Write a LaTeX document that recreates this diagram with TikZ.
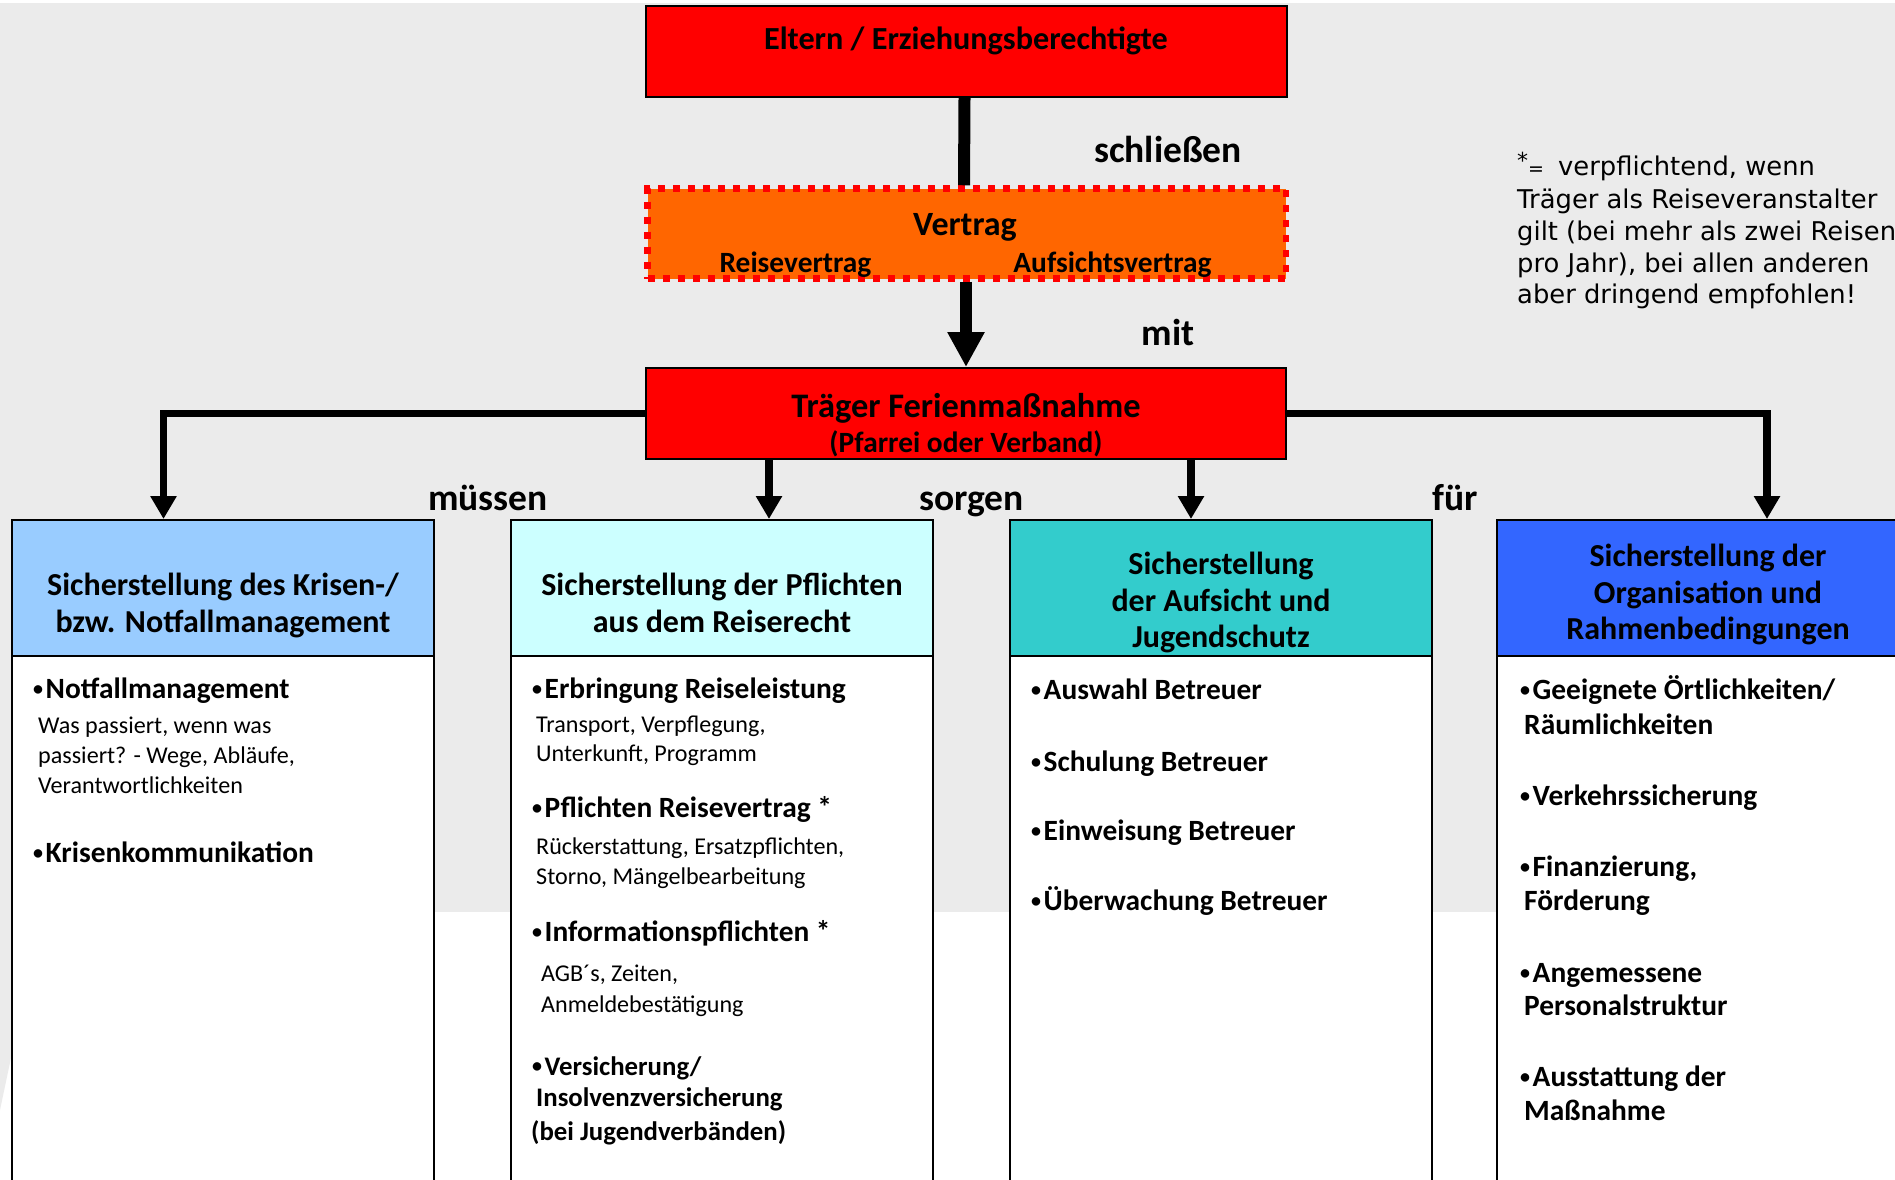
\documentclass[tikz,border=0pt]{standalone}
\usepackage{fontspec}
\setmainfont{Carlito}
\newfontfamily\notefont{DejaVu Sans}
\usetikzlibrary{arrows.meta,calc}
\definecolor{bggray}{HTML}{EBEBEB}
\definecolor{boxred}{HTML}{FF0000}
\definecolor{boxorange}{HTML}{FF6600}
\definecolor{hcolA}{HTML}{99CCFF}
\definecolor{hcolB}{HTML}{CCFFFF}
\definecolor{hcolC}{HTML}{33CCCC}
\definecolor{hcolD}{HTML}{3366FF}
\newcommand\setfs[1]{\fontsize{#1}{#1}\selectfont}
\newcommand\bul{\makebox[12.5pt][l]{\raisebox{2.5pt}{\setfs{20}•}}}
\begin{document}
\begin{tikzpicture}[x=1pt,y=-1pt,
  redbox/.style={draw=black, line width=2pt, fill=boxred, inner sep=0pt, minimum width=641pt, minimum height=91pt},
  hbox/.style={draw=black, line width=2pt, inner sep=0pt, minimum width=422pt, minimum height=136pt},
  bodybox/.style={draw=black, line width=2pt, fill=white, inner sep=0pt, minimum width=422pt, minimum height=544pt},
  txt/.style={inner sep=0pt, anchor=base},
  ttl/.style={txt, font=\setfs{32.2}\bfseries},
  hdr/.style={txt, font=\setfs{32}\bfseries},
  lbl/.style={txt, font=\setfs{37.5}\bfseries},
  itm/.style={inner sep=0pt, anchor=base west, font=\setfs{29.4}\bfseries},
  itmsmall/.style={itm, font=\setfs{26.8}\bfseries},
  sub/.style={inner sep=0pt, anchor=base west, font=\setfs{24.1}},
  note/.style={inner sep=0pt, anchor=base west, font=\notefont\setfs{25.8}},
  conn/.style={line width=7.5pt, -{Triangle[width=25pt,length=23pt]}},
  bigline/.style={line width=12pt},
  bigconn/.style={line width=12pt, -{Triangle[width=35pt,length=35pt]}}
]
\useasboundingbox (0,0) rectangle (1895,1179);
\clip (0,0) rectangle (1895,1179);
\fill[white] (0,0) rectangle (1895,1179);
\fill[bggray] (0,3) rectangle (1895,912);
\fill[bggray] (0,912) -- (12,912) -- (12,1053) -- (0,1110) -- cycle;

% top boxes
\node[redbox] (eltern) at (966.5,51.5) {};
\node[ttl] (elterntxt) at (966,49) {Eltern / Erziehungsberechtigte};

\node[draw=boxred, line width=6.5pt, dash pattern=on 7pt off 8pt, fill=boxorange,
      inner sep=0pt, minimum width=638.5pt, minimum height=90pt] (vertrag) at (966.75,233.5) {};
\node[txt, font=\setfs{34}\bfseries] (vertragtxt) at (965,235) {Vertrag};
\node[txt, font=\setfs{29.4}\bfseries] (reisev) at (795.5,272) {Reisevertrag};
\node[txt, font=\setfs{29.4}\bfseries] (aufsichtv) at (1112.5,272) {Aufsichtsvertrag};

\node[redbox, minimum width=640pt] (traeger) at (966,413.5) {};
\node[txt, font=\setfs{34.4}\bfseries] (traegertxt) at (966,417) {Träger Ferienmaßnahme};
\node[txt, font=\setfs{29.4}\bfseries] (pfarrei) at (966,452) {(Pfarrei oder Verband)};

\node[lbl] (schliessen) at (1168,162) {schließen};
\node[lbl] (mit) at (1168,345) {mit};
\node[lbl] (muessen) at (488,510) {müssen};
\node[lbl] (sorgen) at (971.5,510) {sorgen};
\node[lbl] (fuer) at (1455,510) {für};

% note
\node[note] (n1) at (1517,175) {\raisebox{7pt}{\setfs{22}*}\setfs{19}=\hspace{14pt}\setfs{25.8}verpflichtend, wenn};
\node[note] (n2) at (1517,208) {Träger als Reiseveranstalter};
\node[note] (n3) at (1517,240) {gilt (bei mehr als zwei Reisen};
\node[note] (n4) at (1517,272) {pro Jahr), bei allen anderen};
\node[note] (n5) at (1517,303) {aber dringend empfohlen!};

% lower boxes
\node[bodybox] (b1) at (223,928) {};
\node[bodybox] (b2) at (722,928) {};
\node[bodybox] (b3) at (1221,928) {};
\node[bodybox] (b4) at (1708,928) {};
\node[hbox, fill=hcolA] (h1) at (223,588) {};
\node[hbox, fill=hcolB] (h2) at (722,588) {};
\node[hbox, fill=hcolC] (h3) at (1221,588) {};
\node[hbox, fill=hcolD] (h4) at (1708,588) {};

\node[hdr] (h1a) at (223,595) {Sicherstellung des Krisen-/};
\node[hdr] (h1b) at (223,632) {bzw. Notfallmanagement};
\node[hdr] (h2a) at (722,595) {Sicherstellung der Pflichten};
\node[hdr] (h2b) at (722,632) {aus dem Reiserecht};
\node[hdr] (h3a) at (1221,574) {Sicherstellung};
\node[hdr] (h3b) at (1221,611) {der Aufsicht und};
\node[hdr] (h3c) at (1221,647) {Jugendschutz};
\node[hdr] (h4a) at (1708,566) {Sicherstellung der};
\node[hdr] (h4b) at (1708,603) {Organisation und};
\node[hdr] (h4c) at (1708,639) {Rahmenbedingungen};

% box 1 content
\node[itm] (b1i1) at (33,698) {\bul Notfallmanagement};
\node[sub] (b1s1) at (38,733) {Was passiert, wenn was};
\node[sub] (b1s2) at (38,763) {passiert? - Wege, Abläufe,};
\node[sub] (b1s3) at (38,793) {Verantwortlichkeiten};
\node[itm] (b1i2) at (33,862) {\bul Krisenkommunikation};

% box 2 content
\node[itm] (b2i1) at (532,698) {\bul Erbringung Reiseleistung};
\node[sub] (b2s1) at (536,732) {Transport, Verpflegung,};
\node[sub] (b2s2) at (536,761) {Unterkunft, Programm};
\node[itm] (b2i2) at (532,817) {\bul Pflichten Reisevertrag *};
\node[sub] (b2s3) at (536,854) {Rückerstattung, Ersatzpflichten,};
\node[sub] (b2s4) at (536,884) {Storno, Mängelbearbeitung};
\node[itm] (b2i3) at (532,941) {\bul Informationspflichten *};
\node[sub] (b2s5) at (541,981) {AGB´s, Zeiten,};
\node[sub] (b2s6) at (541,1012) {Anmeldebestätigung};
\node[itmsmall] (b2i4) at (532,1075) {\bul Versicherung/};
\node[itmsmall] (b2i5) at (536,1106) {Insolvenzversicherung};
\node[itmsmall] (b2i6) at (531,1140) {(bei Jugendverbänden)};

% box 3 content
\node[itm] (b3i1) at (1031,699) {\bul Auswahl Betreuer};
\node[itm] (b3i2) at (1031,771) {\bul Schulung Betreuer};
\node[itm] (b3i3) at (1031,840) {\bul Einweisung Betreuer};
\node[itm] (b3i4) at (1031,910) {\bul Überwachung Betreuer};

% box 4 content
\node[itm] (b4i1) at (1520,699) {\bul Geeignete Örtlichkeiten/};
\node[itm] (b4i1b) at (1524,734) {Räumlichkeiten};
\node[itm] (b4i2) at (1520,805) {\bul Verkehrssicherung};
\node[itm] (b4i3) at (1520,876) {\bul Finanzierung,};
\node[itm] (b4i3b) at (1524,910) {Förderung};
\node[itm] (b4i4) at (1520,982) {\bul Angemessene};
\node[itm] (b4i4b) at (1524,1015) {Personalstruktur};
\node[itm] (b4i5) at (1520,1086) {\bul Ausstattung der};
\node[itm] (b4i5b) at (1524,1120) {Maßnahme};

% connectors
\coordinate (a1) at (163.5,0);
\coordinate (a2) at (769,0);
\coordinate (a3) at (1191,0);
\coordinate (a4) at (1767,0);
\draw[bigline] ([xshift=-2pt]eltern.south) -- ([xshift=-2.75pt]vertrag.north);
\draw[bigconn] ([xshift=-0.75pt]vertrag.south) -- (traeger.north);
\draw[conn] (traeger.west) -| (h1.north -| a1);
\draw[conn] (traeger.south -| a2) -- (h2.north -| a2);
\draw[conn] (traeger.south -| a3) -- (h3.north -| a3);
\draw[conn] (traeger.east) -| (h4.north -| a4);
\end{tikzpicture}
\end{document}
